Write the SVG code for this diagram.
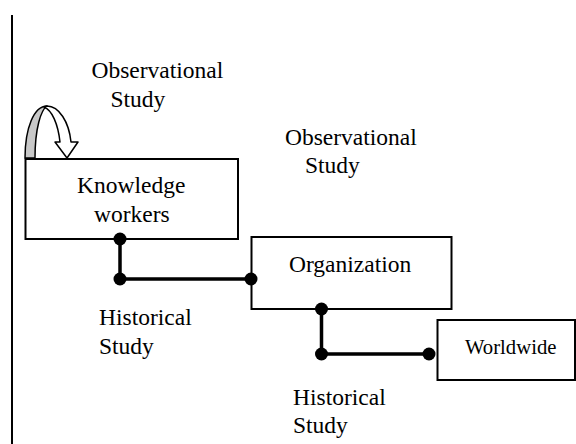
<svg xmlns="http://www.w3.org/2000/svg" width="576" height="444" viewBox="0 0 576 444" font-family="'Liberation Serif', 'Times New Roman', Times, serif">
<style>
text{font-family:'Liberation Serif','Times New Roman',Times,serif;font-size:23.5px;fill:#000}
.box{fill:#fff;stroke:#000;stroke-width:2}
.conn{fill:none;stroke:#000;stroke-width:3.5}
.dot{fill:#000}
</style>
<rect width="576" height="444" fill="#fff"/>
<line x1="12" y1="15" x2="12" y2="444" stroke="#000" stroke-width="2"/>
<g id="labels" font-family="Liberation Serif">
<text x="91.5" y="78">Observational</text>
<text x="110.5" y="107">Study</text>
<text x="285" y="145">Observational</text>
<text x="305" y="173">Study</text>
<text x="99" y="325">Historical</text>
<text x="99" y="354">Study</text>
<text x="293" y="405">Historical</text>
<text x="293" y="433">Study</text>
</g>
<g id="loop">
<path d="M25,158 C25,128 34,106 47,106 C41,110 35,128 35,158 Z" fill="#c8c8c8" stroke="#000" stroke-width="1.5" stroke-linejoin="round"/>
<path d="M47,106 C59,106 69,122 71,142 L78,142 L67,158 L55,142 L60,142 C58,124 52,110 44,107 Z" fill="#fff" stroke="#000" stroke-width="1.5" stroke-linejoin="round"/>
</g>
<g id="knowledge" font-family="Liberation Serif">
<rect class="box" x="25.5" y="159" width="212.5" height="80"/>
<text x="77" y="193">Knowledge</text>
<text x="94" y="222">workers</text>
</g>
<g id="organization" font-family="Liberation Serif">
<rect class="box" x="251.5" y="237" width="200" height="72"/>
<text x="289" y="272">Organization</text>
</g>
<g id="worldwide" font-family="Liberation Serif">
<rect class="box" x="437.5" y="320" width="137.5" height="60"/>
<text x="465" y="354" style="font-size:20.7px">Worldwide</text>
</g>
<g id="connectors">
<polyline class="conn" points="120,239 120,279 251,279"/>
<polyline class="conn" points="321.5,309 321.5,354 429,354"/>
<circle class="dot" cx="120" cy="239" r="6.5"/>
<circle class="dot" cx="120" cy="279" r="6.5"/>
<circle class="dot" cx="251" cy="279" r="6.5"/>
<circle class="dot" cx="321.5" cy="309" r="6.5"/>
<circle class="dot" cx="321.5" cy="354" r="6.5"/>
<circle class="dot" cx="429" cy="354" r="6.5"/>
</g>
</svg>
